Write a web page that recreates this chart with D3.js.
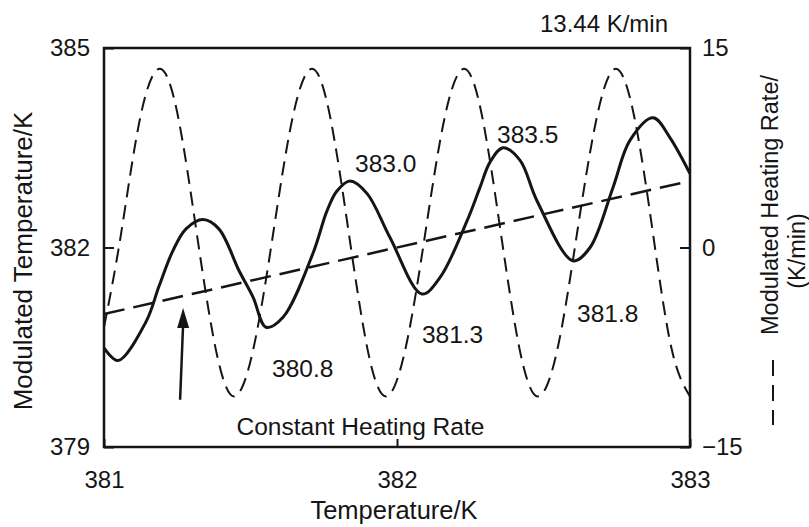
<!DOCTYPE html>
<html>
<head>
<meta charset="utf-8">
<script src="https://cdn.jsdelivr.net/npm/d3@7"></script>
<style>
  body { margin: 0; background: #fff; }
  text { font-family: "Liberation Sans", Arial, Helvetica, sans-serif; fill: #151515; }
</style>
</head>
<body>
<svg id="chart" width="809" height="527"></svg>
<script>
// Sample temperature (x axis, K)
const tempDomain = [381, 383];
const tempTicks = [381, 382, 383];

// Modulated temperature, solid curve (K)
const modTempX = [381.000, 381.048, 381.143, 381.188, 381.235, 381.280, 381.338, 381.392, 381.461, 381.509,
                  381.553, 381.611, 381.713, 381.761, 381.795, 381.840, 381.898, 381.976,
                  382.085, 382.147, 382.239, 382.283, 382.317, 382.362, 382.420, 382.478, 382.601,
                  382.659, 382.737, 382.795, 382.874, 382.932, 383.000];
const modTemp  = [380.49, 380.30, 380.88, 381.42, 381.95, 382.28, 382.42, 382.28, 381.65, 381.25,
                  380.80, 380.95, 381.91, 382.55, 382.85, 383.00, 382.81, 382.15,
                  381.30, 381.55, 382.40, 382.90, 383.28, 383.50, 383.31, 382.70, 381.80,
                  382.00, 382.90, 383.61, 383.95, 383.65, 383.11];

// Underlying temperature at the constant heating rate (K)
const baseX = [381, 383];
const baseT = [381, 383];

// Modulated heating rate, dashed curve (K/min)
const rateX = [381.000, 381.058, 381.123, 381.191, 381.254, 381.317, 381.381, 381.444, 381.510, 381.577,
               381.643, 381.710, 381.773, 381.836, 381.899, 381.962, 382.029, 382.096, 382.162, 382.229,
               382.292, 382.355, 382.418, 382.481, 382.548, 382.614, 382.681, 382.747, 382.811, 382.874,
               382.937, 383.000];
const rate  = [-6.0, 1.0, 9.7, 13.44, 9.7, 1.0, -7.6, -11.2, -7.6, 1.0,
               9.7, 13.44, 9.7, 1.0, -7.6, -11.2, -7.6, 1.0, 9.7, 13.44,
               9.7, 1.0, -7.6, -11.2, -7.6, 1.0, 9.7, 13.44, 9.7, 1.0,
               -7.6, -11.2];

// Axis ticks
const tempLeftDomain = [379, 385];
const tempLeftTicks = [379, 382, 385];
const rateDomain = [-15, 15];
const rateTicks = [-15, 0, 15];

// Turning points of the modulated temperature that carry value labels
const turnX = [381.553, 381.840, 382.085, 382.362, 382.601];
const turnT = [380.8, 383.0, 381.3, 383.5, 381.8];
const turnText = ["380.8", "383.0", "381.3", "383.5", "381.8"];

const peakRateText = "13.44 K/min";

// ---- layout ----
const svg = d3.select("#chart");
const W = 809, H = 527;
const m = { left: 104, right: 119, top: 48, bottom: 80 };
const x0 = m.left, x1 = W - m.right, y0 = m.top, y1 = H - m.bottom;
const FS = 24.5;
const ink = "#151515";

const x = d3.scaleLinear().domain(tempDomain).range([x0, x1]);
const yT = d3.scaleLinear().domain(tempLeftDomain).range([y1, y0]);
const yR = d3.scaleLinear().domain(rateDomain).range([y1, y0]);

// axes with inward ticks
function styleAxis(g) {
  g.select(".domain").remove();
  g.selectAll(".tick line").attr("stroke", ink).attr("stroke-width", 2);
  g.selectAll(".tick text").attr("fill", ink).style("font-size", "24px")
    .style("font-family", '"Liberation Sans", Arial, sans-serif');
}
svg.append("g").attr("transform", `translate(0,${y1})`)
  .call(d3.axisBottom(x).tickValues(tempTicks).tickFormat(d3.format("d")).tickSizeInner(-8).tickSizeOuter(0).tickPadding(24))
  .call(styleAxis);
svg.append("g").attr("transform", `translate(${x0},0)`)
  .call(d3.axisLeft(yT).tickValues(tempLeftTicks).tickFormat(d3.format("d")).tickSizeInner(-10).tickSizeOuter(0).tickPadding(14))
  .call(styleAxis);
svg.append("g").attr("transform", `translate(${x1},0)`)
  .call(d3.axisRight(yR).tickValues(rateTicks).tickFormat(d => d < 0 ? "\u2212" + Math.abs(d) : d).tickSizeInner(-10).tickSizeOuter(0).tickPadding(12))
  .call(styleAxis);

// frame
svg.append("rect").attr("x", x0).attr("y", y0).attr("width", x1 - x0).attr("height", y1 - y0)
  .attr("fill", "none").attr("stroke", ink).attr("stroke-width", 2.5);

// constant heating rate line
const baseLine = d3.line().x(d => x(d[0])).y(d => yT(d[1]));
svg.append("path").datum(d3.zip(baseX, baseT)).attr("d", baseLine)
  .attr("fill", "none").attr("stroke", ink).attr("stroke-width", 2.5).attr("stroke-dasharray", "21,9");

// modulated heating rate (dashed)
const rateLine = d3.line().x(d => x(d[0])).y(d => yR(d[1])).curve(d3.curveNatural);
svg.append("path").datum(d3.zip(rateX, rate)).attr("d", rateLine)
  .attr("fill", "none").attr("stroke", ink).attr("stroke-width", 2).attr("stroke-dasharray", "14,8");

// modulated temperature (solid)
const tempLine = d3.line().x(d => x(d[0])).y(d => yT(d[1])).curve(d3.curveCatmullRom.alpha(0.5));
svg.append("path").datum(d3.zip(modTempX, modTemp)).attr("d", tempLine)
  .attr("fill", "none").attr("stroke", ink).attr("stroke-width", 3).attr("stroke-linejoin", "round");

// value labels at the turning points
const labelOffset = [[6, 50], [5, -9], [0, 49], [-6, -5], [4, 61]];
svg.append("g").selectAll("text").data(d3.range(turnText.length)).join("text")
  .attr("x", i => x(turnX[i]) + labelOffset[i][0])
  .attr("y", i => yT(turnT[i]) + labelOffset[i][1])
  .style("font-size", FS + "px")
  .text(i => turnText[i]);

// arrow pointing at the constant-rate line
const arrowX = 381.27, arrowTop = 381.09, arrowBottom = 379.71;
const ax = x(arrowX), aTop = yT(arrowTop), aBot = yT(arrowBottom);
svg.append("line").attr("x1", ax - 3).attr("y1", aBot).attr("x2", ax).attr("y2", aTop + 16)
  .attr("stroke", ink).attr("stroke-width", 2.5);
svg.append("path").attr("d", `M${ax},${aTop} L${ax - 6},${aTop + 20} L${ax + 6},${aTop + 20} Z`).attr("fill", ink);

svg.append("text").attr("x", x(381.5) - 14).attr("y", 435)
  .style("font-size", FS + "px").text("Constant Heating Rate");

// peak heating rate note
svg.append("text").attr("x", 604).attr("y", 32).attr("text-anchor", "middle")
  .style("font-size", "24px").text(peakRateText);

// axis titles
svg.append("text").attr("x", (x0 + x1) / 2 - 3).attr("y", 519).attr("text-anchor", "middle")
  .style("font-size", "25.5px").text("Temperature/K");
svg.append("text").attr("transform", "translate(32,261) rotate(-90)").attr("text-anchor", "middle")
  .style("font-size", "26px").text("Modulated Temperature/K");
svg.append("text").attr("transform", "translate(778,205) rotate(-90)").attr("text-anchor", "middle")
  .style("font-size", "23.5px").text("Modulated Heating Rate/");
svg.append("text").attr("transform", "translate(805,251) rotate(-90)").attr("text-anchor", "middle")
  .style("font-size", "23.5px").text("(K/min)");
// dashed key for the right-hand series
svg.append("line").attr("x1", 773).attr("x2", 773).attr("y1", 360).attr("y2", 425)
  .attr("stroke", ink).attr("stroke-width", 2).attr("stroke-dasharray", "16,9");
</script>
</body>
</html>
